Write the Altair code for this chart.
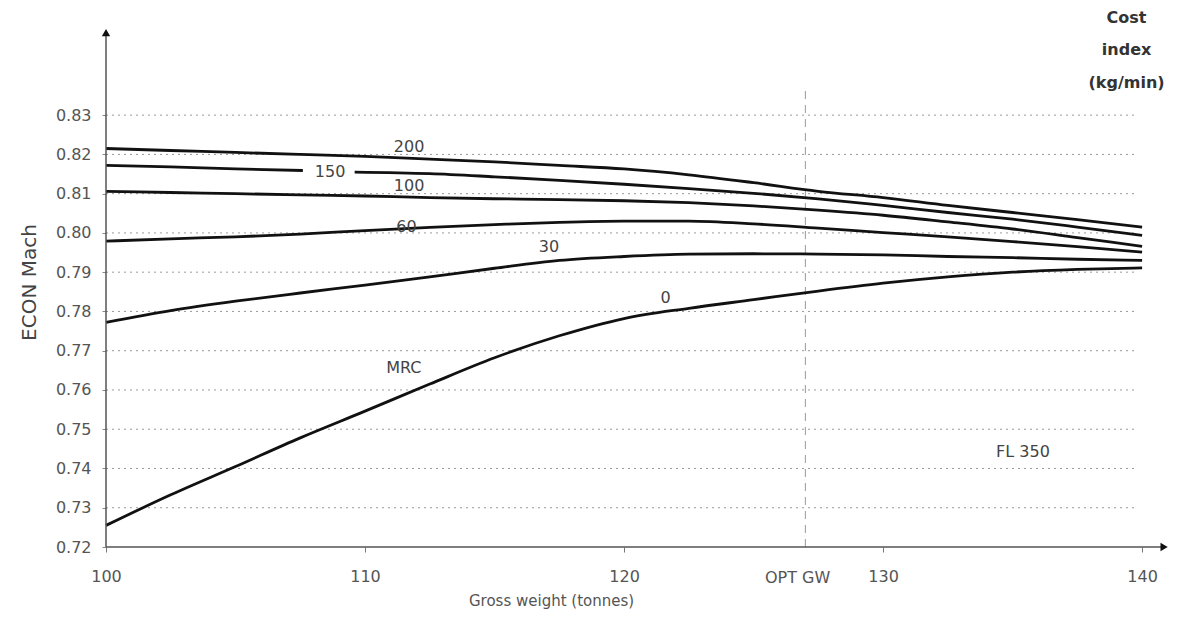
import altair as alt
import pandas as pd

FONT = "DejaVu Sans"

# ---- data ----
grid_w = [100, 102.5, 105, 107.5, 110, 112.5, 115, 117.5, 120, 122.5, 125, 127.5, 130, 132.5, 135, 137.5, 140]

ci200 = [0.8215, 0.8210, 0.8205, 0.8200, 0.8195, 0.8188, 0.8181, 0.8172, 0.8163, 0.8148, 0.8128, 0.8106, 0.8090, 0.8070, 0.8052, 0.8034, 0.8015]

ci150a_w = [100, 102.5, 105, 107.6]
ci150a = [0.8172, 0.8168, 0.8163, 0.8159]
ci150b_w = [109.6, 112.5, 115, 117.5, 120, 122.5, 125, 127.5, 130, 132.5, 135, 137.5, 140]
ci150b = [0.8155, 0.8151, 0.8143, 0.8134, 0.8124, 0.8113, 0.8101, 0.8087, 0.8070, 0.8052, 0.8035, 0.8015, 0.7994]

ci100 = [0.8106, 0.8103, 0.8100, 0.8097, 0.8094, 0.8090, 0.8087, 0.8085, 0.8082, 0.8077, 0.8069, 0.8058, 0.8045, 0.8028, 0.8010, 0.7988, 0.7966]
ci60 = [0.7979, 0.7985, 0.7990, 0.7997, 0.8006, 0.8014, 0.8021, 0.8027, 0.8030, 0.8030, 0.8023, 0.8012, 0.8001, 0.7990, 0.7978, 0.7965, 0.7951]
ci30 = [0.7772, 0.7802, 0.7826, 0.7847, 0.7867, 0.7888, 0.7910, 0.7930, 0.7940, 0.7946, 0.7947, 0.7946, 0.7944, 0.7940, 0.7937, 0.7933, 0.7930]
ci0 = [0.7255, 0.7333, 0.7405, 0.7478, 0.7546, 0.7615, 0.7682, 0.7738, 0.7782, 0.7808, 0.7830, 0.7852, 0.7872, 0.7888, 0.7900, 0.7907, 0.7911]

curve_labels = ["200", "150", "100", "60", "30", "0", "MRC", "FL 350"]
curve_label_w = [111.7, 108.65, 111.7, 111.6, 117.1, 121.6, 111.5, 135.4]
curve_label_m = [0.8218, 0.8155, 0.8119, 0.8014, 0.7963, 0.7834, 0.7655, 0.7442]

x_ticks = [100, 110, 120, 130, 140]
y_ticks = [0.72, 0.73, 0.74, 0.75, 0.76, 0.77, 0.78, 0.79, 0.80, 0.81, 0.82, 0.83]
grid_levels = [0.73, 0.74, 0.75, 0.76, 0.77, 0.78, 0.79, 0.80, 0.81, 0.82, 0.83]
grid_start, grid_end = 100, 139.8

opt_gw = 127.0
opt_gw_top = 0.837

cost_lines = ["Cost", "index", "(kg/min)"]
cost_w = 139.4
cost_m = [0.8547, 0.8466, 0.8382]

x_min, x_max = 100, 141.0
y_min, y_max = 0.72, 0.855
x_arrow, y_arrow = 140.85, 0.851

# ---- tables ----
rows = []
def add(name, seg, ws, ms):
    for w, m in zip(ws, ms):
        rows.append({"curve": name, "seg": f"{name}-{seg}", "w": w, "m": m})

add("200", 0, grid_w, ci200)
add("150", 0, ci150a_w, ci150a)
add("150", 1, ci150b_w, ci150b)
add("100", 0, grid_w, ci100)
add("60", 0, grid_w, ci60)
add("30", 0, grid_w, ci30)
add("0", 0, grid_w, ci0)
curves = pd.DataFrame(rows)

xs = alt.Scale(domain=[x_min, x_max], nice=False, zero=False)
ys = alt.Scale(domain=[y_min, y_max], nice=False, zero=False)

X = alt.X("w:Q", scale=xs,
          axis=alt.Axis(values=x_ticks, title=None, domain=False, grid=False,
                        labelFontSize=16, labelColor="#555", labelFont=FONT, labelFlush=False,
                        tickColor="#777", tickSize=5, labelPadding=16))
Y = alt.Y("m:Q", scale=ys,
          axis=alt.Axis(values=y_ticks, format=".2f", title="ECON Mach", domain=False, grid=False,
                        labelFontSize=16, labelColor="#555", labelFont=FONT,
                        tickColor="#888", tickSize=4, labelPadding=11,
                        titleFontSize=20, titleFontWeight="normal", titleColor="#444",
                        titleFont=FONT, titlePadding=16))

lines = alt.Chart(curves).mark_line(interpolate="monotone", color="#111", strokeWidth=2.8).encode(
    x=X, y=Y, detail="seg:N")

grid_df = pd.DataFrame({"m": grid_levels, "w": grid_start, "w2": grid_end})
grid = alt.Chart(grid_df).mark_rule(color="#9a9a9a", strokeDash=[2, 4], strokeWidth=1).encode(
    x=alt.X("w:Q", scale=xs), x2="w2:Q", y=alt.Y("m:Q", scale=ys))

opt_df = pd.DataFrame({"w": [opt_gw], "m": [y_min], "m2": [opt_gw_top]})
opt = alt.Chart(opt_df).mark_rule(color="#9a9a9a", strokeDash=[8, 6], strokeWidth=1).encode(
    x=alt.X("w:Q", scale=xs), y=alt.Y("m:Q", scale=ys), y2="m2:Q")

xaxis_df = pd.DataFrame({"w": [x_min], "w2": [x_arrow], "m": [y_min]})
xaxis_line = alt.Chart(xaxis_df).mark_rule(color="#555", strokeWidth=1.5).encode(
    x=alt.X("w:Q", scale=xs), x2="w2:Q", y=alt.Y("m:Q", scale=ys))
yaxis_df = pd.DataFrame({"w": [x_min], "m": [y_min], "m2": [y_arrow]})
yaxis_line = alt.Chart(yaxis_df).mark_rule(color="#555", strokeWidth=1.5).encode(
    x=alt.X("w:Q", scale=xs), y=alt.Y("m:Q", scale=ys), y2="m2:Q")

arrow_r = alt.Chart(pd.DataFrame({"w": [x_arrow], "m": [y_min]})).mark_point(
    shape="triangle-right", filled=True, color="#111", size=70, opacity=1).encode(
    x=alt.X("w:Q", scale=xs), y=alt.Y("m:Q", scale=ys))
arrow_u = alt.Chart(pd.DataFrame({"w": [x_min], "m": [y_arrow]})).mark_point(
    shape="triangle-up", filled=True, color="#111", size=70, opacity=1).encode(
    x=alt.X("w:Q", scale=xs), y=alt.Y("m:Q", scale=ys))

lab_df = pd.DataFrame({"t": curve_labels, "w": curve_label_w, "m": curve_label_m})
labels = alt.Chart(lab_df).mark_text(font=FONT, fontSize=16, color="#444", align="center", baseline="middle").encode(
    x=alt.X("w:Q", scale=xs), y=alt.Y("m:Q", scale=ys), text="t:N")

opt_lab = alt.Chart(pd.DataFrame({"t": ["OPT GW"], "w": [126.7], "m": [y_min]})).mark_text(
    font=FONT, fontSize=16, color="#555", align="center", baseline="middle", dy=31).encode(
    x=alt.X("w:Q", scale=xs), y=alt.Y("m:Q", scale=ys), text="t:N")

xtitle = alt.Chart(pd.DataFrame({"t": ["Gross weight (tonnes)"], "w": [117.2], "m": [y_min]})).mark_text(
    font=FONT, fontSize=15, color="#555", align="center", baseline="middle", dy=54).encode(
    x=alt.X("w:Q", scale=xs), y=alt.Y("m:Q", scale=ys), text="t:N")

cost_df = pd.DataFrame({"t": cost_lines, "w": cost_w, "m": cost_m})
cost = alt.Chart(cost_df).mark_text(font=FONT, fontSize=16, fontWeight="bold", color="#333",
                                    align="center", baseline="middle").encode(
    x=alt.X("w:Q", scale=xs), y=alt.Y("m:Q", scale=ys), text="t:N")

chart = alt.layer(grid, opt, lines, xaxis_line, yaxis_line, arrow_r, arrow_u,
                  labels, opt_lab, xtitle, cost).properties(
    width=1062, height=530,
    padding={"left": 98, "top": 9, "right": 0, "bottom": 64},
    autosize=alt.AutoSizeParams(type="none"),
    background="white",
).configure_view(stroke=None)

chart.save("out.html", embed_options={"renderer": "svg", "actions": False})
